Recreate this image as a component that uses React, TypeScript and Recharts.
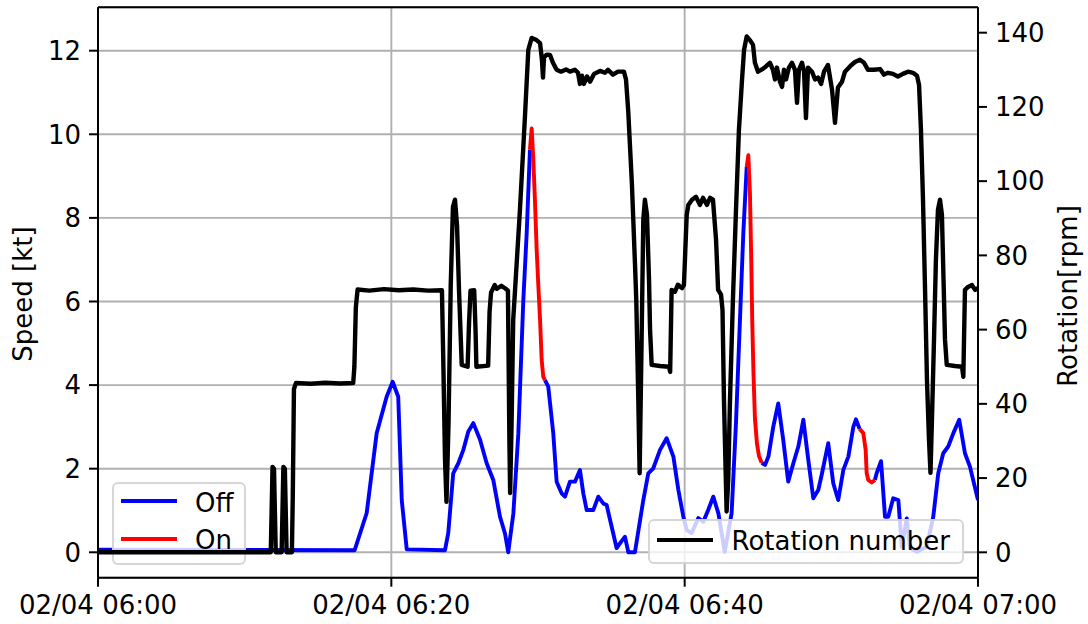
import React from 'react';
import { LineChart, Line, XAxis, YAxis, CartesianGrid, ReferenceLine } from 'recharts';

// ---------- data (time in minutes after 02/04 06:00) ----------
const xTicks = [0, 20, 40, 60];
const xTickLabels = ['02/04 06:00', '02/04 06:20', '02/04 06:40', '02/04 07:00'];
const speedTicks = [0, 2, 4, 6, 8, 10, 12];
const rpmTicks = [0, 20, 40, 60, 80, 100, 120, 140];

const rotTime = [
  0, 11.78, 11.9, 12.0, 12.12, 12.52, 12.64, 12.74, 12.86, 13.22, 13.28, 13.36, 13.5, 14.5, 15.5, 16.5, 17.4,
  17.48, 17.58, 17.7, 18.5, 19.5, 20.5, 21.5, 22.5, 23.45, 23.55, 23.66, 23.76, 23.9, 24.05, 24.2, 24.34, 24.48,
  24.62, 24.8, 25.2, 25.3, 25.4, 25.65, 25.74, 25.8, 26.6, 26.7, 26.8, 27.05, 27.2, 27.5, 27.8, 27.95, 28.05,
  28.1, 28.2, 28.31, 28.77, 29.11, 29.34, 29.57, 29.9, 30.14, 30.27, 30.34, 30.41, 30.6, 30.82, 31.02, 31.27,
  31.57, 31.91, 32.18, 32.52, 32.73, 32.86, 33.0, 33.13, 33.34, 33.55, 33.82, 34.23, 34.57, 34.77, 35.11, 35.45,
  35.86, 36.0, 36.15, 36.4, 36.62, 36.7, 36.84, 36.93, 37.07, 37.18, 37.29, 37.43, 37.57, 37.64, 37.75, 38.32,
  38.94, 39.01, 39.11, 39.34, 39.54, 39.82, 39.95, 40.14, 40.25, 40.5, 40.77, 41.04, 41.25, 41.52, 41.73, 41.93,
  42.14, 42.28, 42.48, 42.58, 42.68, 42.86, 42.97, 43.09, 43.29, 43.5, 43.7, 43.91, 44.05, 44.23, 44.45, 44.66,
  44.79, 45.0, 45.27, 45.54, 45.81, 46.02, 46.16, 46.29, 46.5, 46.64, 46.77, 46.91, 47.11, 47.32, 47.52, 47.66,
  47.79, 48.0, 48.14, 48.27, 48.41, 48.68, 48.89, 49.09, 49.3, 49.5, 49.77, 50.05, 50.25, 50.45, 50.73, 50.93,
  51.27, 51.61, 51.95, 52.23, 52.5, 52.91, 53.32, 53.59, 53.86, 54.2, 54.54, 54.88, 55.23, 55.57, 55.84, 55.98,
  56.11, 56.25, 56.39, 56.52, 56.66, 56.76, 56.86, 57.0, 57.13, 57.27, 57.41, 57.54, 57.65, 57.75, 57.87, 58.43,
  58.91, 59.0, 59.11, 59.32, 59.59, 59.8, 60,
];
const rotRpm = [
  0, 0, 23, 22.5, 0, 0, 23, 22.5, 0, 0, 15, 44, 45.6, 45.4, 45.7, 45.5, 45.6,
  50, 66, 70.8, 70.5, 70.9, 70.6, 70.8, 70.5, 70.6, 50, 25, 13.6, 35, 72, 93, 95, 88,
  70, 50.5, 50, 62, 70.5, 70.6, 60, 50, 50.3, 65, 70, 72, 71, 71.8, 71, 70.5, 30,
  16, 35, 62.6, 92.3, 117.4, 135.4, 138.6, 138, 137.2, 132.6, 127.9, 133.3, 134.1, 134, 131.9, 130,
  129.5, 130.1, 129.5, 130, 129.2, 126.2, 128.4, 126.2, 128.2, 126.8, 128.9, 129.7, 129.2, 130, 128.7, 129.5,
  129.5, 127.4, 119, 99.5, 76.9, 68, 41, 21.3, 59, 89.6, 95, 91, 73.4, 60, 50.5, 50.2,
  50, 48.6, 70.7, 70.2, 72.1, 71.2, 72, 90.9, 93.6, 95, 95.8, 93.6, 95.5, 93.6, 95.5, 95,
  84.2, 70.7, 69.4, 65.3, 41, 11, 19.5, 41, 68, 92.3, 113.8, 127.3, 135.4, 139, 138, 136.7,
  131.9, 129.5, 130.1, 130.9, 131.9, 130, 127.4, 130.6, 126.8, 125.4, 130, 127.4, 130.6, 131.9, 130, 121.1,
  130, 131.9, 129.5, 117, 130.6, 129.5, 127.4, 127.9, 126.2, 129.5, 131.3, 124.6, 115.7, 125.2, 126.8, 129.5,
  130.9, 132.1, 132.7, 131.9, 130, 130, 130.2, 128.7, 129.2, 128.9, 128.2, 128.9, 129.5, 129.2, 128.4, 126,
  113.8, 95, 70.7, 46.5, 30.3, 21.4, 35.7, 57.3, 78.8, 92.3, 95, 91, 73.4, 57.3, 50.5, 50.2,
  50, 47.3, 70.7, 71.5, 72, 70.7, 71.2,
];

const speedTime = [
  0, 17.5, 18.32, 19.0, 19.68, 20.09, 20.47, 20.71, 21.05, 23.66, 23.88, 24.22, 24.57, 24.91, 25.25, 25.59,
  26.05, 26.5, 26.95, 27.41, 27.75, 27.97, 28.32, 28.66, 29.0, 29.23, 29.45, 29.57, 29.68, 29.79, 29.91, 30.02,
  30.14, 30.25, 30.36, 30.48, 30.7, 31.04, 31.27, 31.61, 31.84, 32.18, 32.52, 32.86, 33.09, 33.32, 33.77, 34.11,
  34.45, 34.68, 35.13, 35.36, 35.66, 35.93, 36.16, 36.61, 37.18, 37.52, 37.86, 38.32, 38.77, 39.23, 39.57, 39.91,
  40.14, 40.48, 40.93, 41.27, 41.59, 41.95, 42.3, 42.73, 43.2, 43.5, 43.77, 44.0, 44.23, 44.34, 44.45, 44.54,
  44.61, 44.69, 44.79, 44.93, 45.07, 45.25, 45.48, 45.71, 46.04, 46.38, 46.72, 47.06, 47.41, 47.75, 48.09, 48.43,
  48.77, 49.11, 49.34, 49.79, 50.13, 50.47, 50.82, 51.16, 51.5, 51.68, 51.93, 52.18, 52.34, 52.41, 52.52, 52.75,
  52.97, 53.09, 53.39, 53.66, 53.88, 54.22, 54.57, 54.8, 55.14, 55.36, 55.82, 56.5, 56.95, 57.29, 57.63, 57.97,
  58.32, 58.72, 59.11, 59.45, 60,
];
const speedKt = [
  0.06, 0.05, 0.94, 2.85, 3.72, 4.08, 3.72, 1.25, 0.07, 0.05, 0.46, 1.89, 2.13, 2.45, 2.89, 3.09,
  2.69, 2.13, 1.73, 0.85, 0.45, 0.0, 0.93, 2.85, 6.04, 7.64, 9.63, 10.14, 9.4, 8.43, 7.23, 6.4,
  5.56, 4.6, 4.2, 4.12, 3.96, 2.85, 1.69, 1.41, 1.33, 1.69, 1.69, 1.97, 1.41, 1.01, 1.01, 1.33,
  1.17, 1.13, 0.45, 0.1, 0.25, 0.37, 0.0, 0.0, 1.25, 1.89, 2.01, 2.45, 2.73, 2.29, 1.49, 0.85,
  0.53, 0.46, 0.82, 0.73, 1.0, 1.33, 0.93, 0.01, 0.93, 3.1, 5.56, 7.64, 9.22, 9.5, 8.6, 7.0,
  5.5, 4.3, 3.2, 2.6, 2.3, 2.14, 2.09, 2.29, 3.0, 3.56, 2.69, 1.69, 2.13, 2.53, 3.17, 2.21,
  1.29, 1.49, 1.85, 2.61, 1.65, 1.25, 1.97, 2.29, 3.0, 3.18, 2.95, 2.85, 2.45, 1.89, 1.73, 1.67,
  1.73, 1.89, 2.18, 0.85, 0.85, 1.29, 1.25, 0.13, 0.81, 0.1, 0.01, 0.13, 0.85, 1.89, 2.37, 2.53,
  2.85, 3.17, 2.37, 2.05, 1.25,
];
// 0 = Off, 1 = On, 2 = boundary between the two
const speedState = [
  0, 0, 0, 0, 0, 0, 0, 0, 0, 0, 0, 0, 0, 0, 0, 0,
  0, 0, 0, 0, 0, 0, 0, 0, 0, 0, 2, 1, 1, 1, 1, 1,
  1, 1, 1, 2, 0, 0, 0, 0, 0, 0, 0, 0, 0, 0, 0, 0,
  0, 0, 0, 0, 0, 0, 0, 0, 0, 0, 0, 0, 0, 0, 0, 0,
  0, 0, 0, 0, 0, 0, 0, 0, 0, 0, 0, 0, 2, 1, 1, 1,
  1, 1, 1, 1, 1, 2, 0, 0, 0, 0, 0, 0, 0, 0, 0, 0,
  0, 0, 0, 0, 0, 0, 0, 0, 0, 0, 2, 1, 1, 1, 1, 1,
  2, 0, 0, 0, 0, 0, 0, 0, 0, 0, 0, 0, 0, 0, 0, 0,
  0, 0, 0, 0, 0,
];

// ---------- build tables ----------
const speedData = speedTime.map((t, i) => ({
  t,
  off: speedState[i] !== 1 ? speedKt[i] : null,
  on: speedState[i] !== 0 ? speedKt[i] : null,
}));
const rotData = rotTime.map((t, i) => ({ t, rpm: rotRpm[i] }));

// ---------- style ----------
const W = 1088;
const H = 624;
const FONT = '"DejaVu Sans", Verdana, sans-serif';
const FS = 26;
const TOP = 7.3;
const BOTTOM = 46.3;
const LEFT = 98;
const RIGHT = 110;
const SPEED_DOMAIN: [number, number] = [-0.608, 13.038];
const RPM_DOMAIN: [number, number] = [-6.84, 146.84];

const tickStyle = { fill: '#000', fontSize: FS, fontFamily: FONT };
const axisLine = { stroke: '#000', strokeWidth: 2 };
const tickLine = { stroke: '#000', strokeWidth: 2 };

const abs: React.CSSProperties = { position: 'absolute', left: 0, top: 0 };

const legendBox = (left: number, top: number, width: number, height: number): React.CSSProperties => ({
  position: 'absolute',
  left,
  top,
  width,
  height,
  boxSizing: 'border-box',
  border: '2px solid rgba(204,204,204,0.8)',
  borderRadius: 6,
  background: 'rgba(255,255,255,0.8)',
});
const legendLine = (left: number, cy: number, color: string, w: number): React.CSSProperties => ({
  position: 'absolute',
  left,
  top: cy - w / 2,
  width: 56,
  height: w,
  background: color,
});
const legendText = (left: number, cy: number): React.CSSProperties => ({
  position: 'absolute',
  left,
  top: cy - 14.5,
  fontFamily: FONT,
  fontSize: FS,
  lineHeight: '30px',
  color: '#000',
  whiteSpace: 'nowrap',
});
const axisLabel = (cx: number, cy: number): React.CSSProperties => ({
  position: 'absolute',
  left: cx,
  top: cy,
  transform: 'translate(-50%, -50%) rotate(-90deg)',
  fontFamily: FONT,
  fontSize: FS,
  lineHeight: '30px',
  color: '#000',
  whiteSpace: 'nowrap',
});

export default function App() {
  return (
    <div style={{ position: 'absolute', left: 0, top: 0, width: W, height: H, background: '#fff', overflow: 'hidden' }}>
      {/* speed axes (bottom layer) */}
      <div style={abs}>
        <LineChart width={W} height={H} data={speedData} margin={{ top: TOP, right: RIGHT, bottom: 0, left: 0 }}>
          <CartesianGrid yAxisId="left" stroke="#b0b0b0" strokeWidth={1.9} />
          <XAxis
            dataKey="t"
            type="number"
            domain={[0, 60]}
            ticks={xTicks}
            interval={0}
            allowDataOverflow
            tickFormatter={(v: number) => xTickLabels[xTicks.indexOf(v)]}
            height={BOTTOM}
            tickSize={9}
            tickMargin={9}
            tick={tickStyle}
            axisLine={axisLine}
            tickLine={tickLine}
          />
          <YAxis
            yAxisId="left"
            type="number"
            domain={SPEED_DOMAIN}
            ticks={speedTicks}
            interval={0}
            allowDataOverflow
            width={LEFT}
            tickSize={9}
            tickMargin={8}
            tick={tickStyle}
            axisLine={axisLine}
            tickLine={tickLine}
          />
          <ReferenceLine yAxisId="left" y={SPEED_DOMAIN[1]} stroke="#000" strokeWidth={2} />
          <Line
            yAxisId="left"
            type="linear"
            dataKey="off"
            stroke="#0000ff"
            strokeWidth={3.9}
            strokeLinejoin="round"
            dot={false}
            activeDot={false}
            connectNulls={false}
            isAnimationActive={false}
          />
          <Line
            yAxisId="left"
            type="linear"
            dataKey="on"
            stroke="#ff0000"
            strokeWidth={3.9}
            strokeLinejoin="round"
            dot={false}
            activeDot={false}
            connectNulls={false}
            isAnimationActive={false}
          />
        </LineChart>
      </div>

      {/* legend of the speed axes */}
      <div style={legendBox(112, 482, 134, 83)} />
      <div style={legendLine(121, 501, '#0000ff', 3.9)} />
      <div style={legendText(195, 502)}>Off</div>
      <div style={legendLine(121, 539.3, '#ff0000', 3.9)} />
      <div style={legendText(195, 539.7)}>On</div>

      {/* rotation axes (top layer) */}
      <div style={abs}>
        <LineChart width={W} height={H} data={rotData} margin={{ top: TOP, right: 0, bottom: BOTTOM, left: LEFT }}>
          <XAxis dataKey="t" type="number" domain={[0, 60]} allowDataOverflow hide />
          <YAxis
            yAxisId="right"
            orientation="right"
            type="number"
            domain={RPM_DOMAIN}
            ticks={rpmTicks}
            interval={0}
            allowDataOverflow
            width={RIGHT}
            tickSize={9}
            tickMargin={8}
            tick={tickStyle}
            axisLine={axisLine}
            tickLine={tickLine}
          />
          <Line
            yAxisId="right"
            type="linear"
            dataKey="rpm"
            stroke="#000000"
            strokeWidth={4.4}
            strokeLinejoin="round"
            dot={false}
            activeDot={false}
            isAnimationActive={false}
          />
        </LineChart>
      </div>

      {/* legend of the rotation axes */}
      <div style={legendBox(648, 519, 316, 45)} />
      <div style={legendLine(657, 540, '#000000', 4.4)} />
      <div style={legendText(731.5, 540)}>Rotation number</div>

      {/* axis titles */}
      <div style={axisLabel(22.5, 293.5)}>Speed [kt]</div>
      <div style={axisLabel(1068, 295.5)}>Rotation[rpm]</div>
    </div>
  );
}
